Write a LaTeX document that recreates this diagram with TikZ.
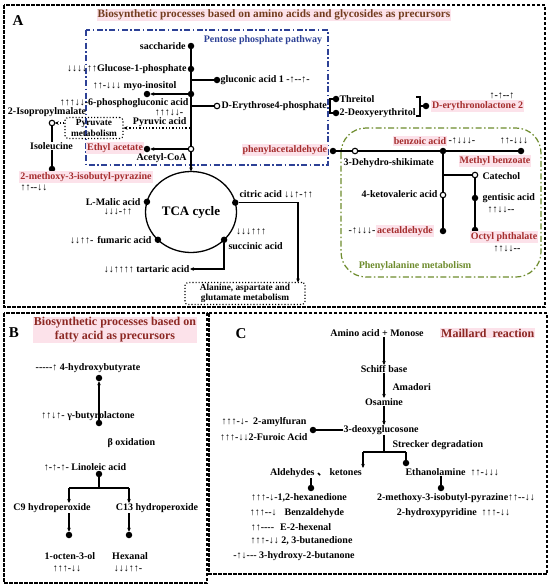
\documentclass[tikz,border=0pt]{standalone}
\usepackage{fontspec}
\setmainfont{Liberation Serif}
\newfontfamily\libser{Liberation Serif}
\newfontfamily\cjkfont{Noto Sans CJK SC}
\usetikzlibrary{arrows.meta,shapes.geometric,calc}
\definecolor{labred}{RGB}{165,45,45}
\definecolor{titred}{RGB}{140,40,35}
\definecolor{titbrown}{RGB}{115,60,30}
\definecolor{pinkbg}{RGB}{252,226,234}
\definecolor{ppblue}{RGB}{45,65,150}
\definecolor{phgreen}{RGB}{110,140,45}
\tikzset{
  lbl/.style={font=\libser\bfseries\fontsize{10}{11.5}\selectfont, inner sep=0.5pt, outer sep=0pt},
  redl/.style={lbl, text=labred, fill=pinkbg, inner sep=1pt},
  ttl/.style={font=\libser\bfseries\fontsize{12}{14}\selectfont, text=titred, fill=pinkbg, inner sep=1pt, align=center},
  plab/.style={font=\libser\bfseries\fontsize{15}{15}\selectfont, inner sep=0pt},
  dotn/.style={circle, fill=black, inner sep=0pt, minimum size=6.5pt, outer sep=0pt},
  odot/.style={circle, draw=black, fill=white, line width=1.1pt, inner sep=0pt, minimum size=5.5pt, outer sep=0pt},
  ln/.style={line width=1.3pt},
  tip/.style={-{Stealth[length=4pt,width=3.6pt]}},
  panelbox/.style={line width=1.8pt, dash pattern=on 3.5pt off 1.5pt},
  dotbox/.style={draw, dotted, line width=1.1pt, rounded corners=3pt, align=center, font=\libser\bfseries\fontsize{9.3}{10.5}\selectfont, inner sep=1pt}
}
\begin{document}
\begin{tikzpicture}[x=1pt,y=-1pt]
\useasboundingbox (0,0) rectangle (550,587);
\fill[white] (0,0) rectangle (550,587);

% ===================== Panel A =====================
\draw[panelbox] (4,5) rectangle (545,307);
\node[plab] (labA) at (18,21) {A};
\node[ttl, text=titbrown, font=\libser\bfseries\fontsize{11.3}{13}\selectfont] (titA) at (274,15) {Biosynthetic processes based on amino acids and glycosides as precursors};

\draw[ppblue, line width=1.2pt, dash pattern=on 6pt off 2.5pt on 1.5pt off 2.5pt] (86,30) rectangle (328,165);
\node[lbl, text=ppblue] (ppT) at (263,40) {Pentose phosphate pathway};

\draw[phgreen, line width=1.2pt, dash pattern=on 6pt off 2.5pt on 1.5pt off 2.5pt, rounded corners=25pt] (341,128) rectangle (541,277);
\node[lbl, text=phgreen] (phT) at (415,266) {Phenylalanine metabolism};

% main column
\node[dotn] (sac) at (191,46) {};
\node[lbl, anchor=east] (sacT) at (186,46) {saccharide};
\node[dotn] (g1p) at (191,69) {};
\node[lbl, anchor=east] (g1pT) at (187,69) {↓↓↓↓↑↑Glucose-1-phosphate};
\coordinate (gluJ) at (191,80);
\node[dotn] (glu) at (217,80) {};
\node[lbl, anchor=west] (gluT) at (220,80) {gluconic acid 1 -↑--↑-};
\node[dotn] (myoJ) at (191,94) {};
\node[dotn] (myo) at (147,94) {};
\node[lbl, anchor=east] (myoT) at (177,86) {↑↑-↓↓↓ myo-inositol};
\node[lbl, anchor=east] (pgT) at (189,103) {↑↑↑↓↓-6-phosphogluconic acid};
\coordinate (eryJ) at (191,106);
\node[odot] (ery) at (217,106) {};
\node[lbl, anchor=west] (eryT) at (221,106) {D-Erythrose4-phosphate};
\node[lbl] (pyrA) at (169,113) {↑↑↑↓↓-};
\node[lbl, anchor=east] (pyrT) at (187,122) {Pyruvic acid};
\coordinate (pyrS) at (190,128);
\node[dotbox, minimum width=58pt, minimum height=21pt] (pm) at (94,128) {Pyruvate\\metabolism};
\node[odot] (ipm) at (52,123) {};
\node[lbl] (ipmT) at (47,112) {2-Isopropylmalate};
\node[lbl] (ile) at (51.5,146) {Isoleucine};
\node[dotn] (mp) at (52,169) {};
\node[redl] (mpT) at (86,177) {2-methoxy-3-isobutyl-pyrazine};
\node[lbl] (mpA) at (34,188) {↑↑--↓↓};
\node[dotn] (ea) at (147,149) {};
\node[redl, anchor=east] (eaT) at (144,148) {Ethyl acetate};
\node[odot] (acoa) at (191,149) {};
\node[lbl, anchor=east] (acoaT) at (187,158) {Acetyl-CoA};

\draw[ln] (sac) -- (g1p) -- (gluJ) -- (myoJ) -- (eryJ) -- (acoa);
\draw[ln] (gluJ) -- (glu);
\draw[ln, tip] (myoJ) -- (myo);
\draw[ln] (eryJ) -- (ery);
\draw[ln, tip] (acoa) -- (ea);
\draw[ln, dotted, tip] (pyrS) -- (pyrS -| pm.east);
\draw[ln, dotted, tip] (pm.west |- ipm) -- (ipm);
\draw[ln] (ipm) -- (ile.north -| ipm);
\draw[ln] (ile.south -| mp) -- (mp);

% TCA
\node[draw, ellipse, line width=1.3pt, minimum width=91pt, minimum height=81pt, inner sep=0pt, outer sep=0pt,
      font=\libser\bfseries\fontsize{13}{14}\selectfont] (tca) at (191,212) {TCA cycle};
\draw[ln, tip] (acoa) -- (tca);
\node[dotn] (mal) at (tca.167) {};
\node[lbl, anchor=east] (malT) at (141,202) {L-Malic acid};
\node[lbl] (malA) at (118,212) {↓↓↓-↑↑};
\node[dotn] (fum) at (tca.220) {};
\node[lbl, anchor=east] (fumT) at (152,240) {↓↓↑↑-\hspace{4pt}fumaric acid};
\node[dotn] (cit) at (tca.12) {};
\node[lbl, anchor=west] (citT) at (239,194) {citric acid ↓↓↑-↑↑};
\node[dotn] (suc) at (tca.320) {};
\node[lbl, anchor=west] (sucT) at (228,246) {succinic acid};
\node[lbl] (sucA) at (251,232) {↓↓↓↑↑↑};
\node[lbl, anchor=east] (tart) at (190,269) {↓↓↑↑↑↑ tartaric acid};
\node[dotbox, minimum width=120pt, minimum height=22pt] (ala) at (245,293.5) {Alanine, aspartate and\\glutamate metabolism};
\coordinate (alaIn) at (298,282.5);
\draw[ln, tip] (cit) -| (alaIn);
\draw[ln, tip] (suc) |- (tart);

% Threitol group
\node[dotn] (threit) at (336,99) {};
\node[lbl, anchor=west] (threitT) at (339,99) {Threitol};
\node[dotn] (deoxy) at (336,113) {};
\node[lbl, anchor=west] (deoxyT) at (339,113) {2-Deoxyerythritol};
\draw[ln] (threit) -- (330,99) -- (330,113) -- (deoxy);
\coordinate (brR) at (420,106);
\draw[ln] (416,97) -- (420,97) -- (420,116) -- (416,116);
\node[dotn] (dlac) at (426,106) {};
\draw[ln] (brR) -- (dlac);
\node[redl, anchor=west] (dlacT) at (431,106) {D-erythronolactone 2};
\node[lbl] (dlacA) at (502,96) {↑-↑--↑};

% Phenylalanine part
\node[redl, anchor=east] (paT) at (328,150) {phenylacetaldehyde};
\node[dotn] (pa) at (333,151) {};
\node[odot] (dhs) at (355,151) {};
\node[lbl, anchor=west] (dhsT) at (343,163) {3-Dehydro-shikimate};
\node[dotn] (bzJ) at (443,151) {};
\node[redl] (bzT) at (420,141) {benzoic acid};
\node[lbl, anchor=west] (bzA) at (448,141) {-↑↓↓↓-};
\node[dotn] (mb) at (521,151) {};
\node[lbl] (mbA) at (514,141) {↑↑-↓↓↓};
\node[redl] (mbT) at (495,161) {Methyl benzoate};
\coordinate (catJ) at (443,175);
\node[odot] (kv) at (443,195) {};
\node[lbl, anchor=east] (kvT) at (438,194) {4-ketovaleric acid};
\node[odot] (cat) at (475,175) {};
\node[lbl, anchor=west] (catT) at (482,176) {Catechol};
\node[dotn] (gen) at (475,198) {};
\node[lbl, anchor=west] (genT) at (482,198) {gentisic acid};
\node[lbl] (genA) at (501,210) {↑↑↓↓--};
\node[dotn] (op) at (475,230) {};
\node[redl] (opT) at (504,237) {Octyl phthalate};
\node[lbl] (opA) at (507,249) {↑↑↓↓--};
\node[dotn] (ac) at (443,231) {};
\node[redl] (acT) at (405,231) {acetaldehyde};
\node[lbl] (acA) at (362,231) {-↑↓↓↓-};
\draw[ln] (pa) -- (dhs) -- (bzJ) -- (mb);
\draw[ln] (bzJ) -- (catJ) -- (kv) -- (ac);
\draw[ln] (catJ) -- (cat) -- (gen) -- (op);

% ===================== Panel B =====================
\draw[panelbox] (4,313) rectangle (207,583);
\node[plab] (labB) at (14,333) {B};
\node[ttl] (titB) at (115,330) {Biosynthetic processes based on\\fatty acid as precursors};
\node[lbl] (hbT) at (88,368) {-----↑ 4-hydroxybutyrate};
\node[dotn] (hb) at (99,378) {};
\node[lbl] (gbT) at (88,416) {↑↑↓↑- γ-butyrolactone};
\node[dotn] (gb) at (99,423) {};
\node[lbl, anchor=west] (boT) at (107,443) {β oxidation};
\node[lbl] (liT) at (85,467) {↑-↑-↑- Linoleic acid};
\node[dotn] (li) at (99,474) {};
\coordinate (liJ) at (99,488);
\coordinate (c9J) at (69,488);
\coordinate (c13J) at (129,488);
\node[lbl] (c9T) at (52,508) {C9 hydroperoxide};
\node[lbl] (c13T) at (157,508) {C13 hydroperoxide};
\node[dotn] (oc) at (69,535) {};
\node[dotn] (hx) at (129,535) {};
\node[lbl] (ocT) at (70,556) {1-octen-3-ol};
\node[lbl] (ocA) at (67,569) {↑↑↑-↓↓};
\node[lbl] (hxT) at (130,556) {Hexanal};
\node[lbl] (hxA) at (128,569) {↓↓↓↑↑-};
\draw[ln, tip] (gb) -- (hb);
\draw[ln] (li) -- (liJ);
\draw[ln] (c9J) -- (c13J);
\draw[ln, tip] (c9J) -- (c9J |- c9T.north);
\draw[ln, tip] (c13J) -- (c13J |- c13T.north);
\draw[ln, tip] (oc |- c9T.south) -- (oc);
\draw[ln, tip] (hx |- c13T.south) -- (hx);

% ===================== Panel C =====================
\draw[panelbox] (209,313) rectangle (547,574);
\node[plab] (labC) at (241,334) {C};
\node[lbl] (aaT) at (377,333) {Amino acid + Monose};
\node[ttl, anchor=west] (mrT) at (440,333) {Maillard\ \ reaction};
\node[lbl] (sbT) at (384,369) {Schiff base};
\node[lbl, anchor=west] (amT) at (392,387) {Amadori};
\node[lbl] (osT) at (384,402) {Osamine};
\node[lbl] (dgT) at (381,430) {3-deoxyglucosone};
\node[dotn] (dgd) at (313,430) {};
\node[lbl, anchor=east] (afT) at (307,422) {↑↑↑-↓-\hspace{5pt}2-amylfuran};
\node[lbl, anchor=east] (faT) at (308,437) {↑↑↑-↓↓2-Furoic Acid};
\node[lbl, anchor=west] (stT) at (392,445) {Strecker degradation};
\coordinate (stJ) at (384,452);
\coordinate (stL) at (363,452);
\coordinate (stR) at (406,452);
\node[dotn] (eth) at (406,463) {};
\node[lbl] (alT) at (316,473) {Aldehydes {\cjkfont 、} ketones};
\node[lbl, anchor=west] (etT) at (405,472) {Ethanolamine\hspace{5pt}↑↑-↓↓↓};
\node[dotn] (ald) at (311,488) {};
\node[dotn] (etd) at (441,488) {};
\node[lbl] (l1) at (299,498) {↑↑↑-↓-1,2-hexanedione};
\node[lbl] (l2) at (297,513) {↑↑↑--↓\hspace{8pt}Benzaldehyde};
\node[lbl] (l3) at (291,527) {↑↑----\hspace{6pt}E-2-hexenal};
\node[lbl] (l4) at (301.5,541) {↑↑↑-↓↓ 2, 3-butanedione};
\node[lbl] (l5) at (294,556) {-↑↓--- 3-hydroxy-2-butanone};
\node[lbl] (r1) at (456,498) {2-methoxy-3-isobutyl-pyrazine↑↑--↓↓};
\node[lbl] (r2) at (453.5,513) {2-hydroxypyridine\hspace{5pt}↑↑↑-↓↓};
\draw[ln, tip] (aaT.south -| sbT) -- (sbT.north);
\draw[ln, tip] (sbT.south) -- (osT.north);
\draw[ln, tip] (osT.south) -- (osT.south |- dgT.north);
\draw[ln] (dgT.west) -- (dgd);
\draw[ln] (dgT.south -| stJ) -- (stJ);
\draw[ln] (stL) -- (stR);
\draw[ln, tip] (stL) -- (alT.north -| stL);
\draw[ln] (stR) -- (eth);
\draw[ln] (alT.south -| ald) -- (ald);
\draw[ln] (etT.south -| etd) -- (etd);
\end{tikzpicture}
\end{document}
